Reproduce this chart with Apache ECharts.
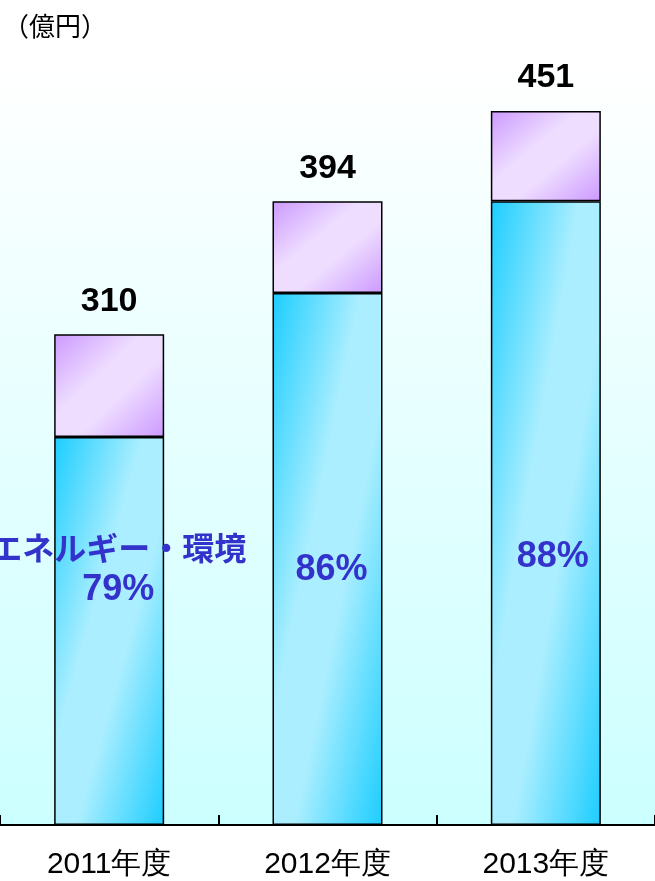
<!DOCTYPE html>
<html>
<head>
<meta charset="utf-8">
<script src="https://cdn.jsdelivr.net/npm/echarts@6/dist/echarts.min.js"></script>
<style>
  html, body { margin: 0; padding: 0; background: #fff; }
  #chart { width: 655px; height: 881px; }
</style>
</head>
<body>
<div id="chart"></div>
<script>
const categories = ['2011年度', '2012年度', '2013年度']
const energyValues = [245, 336, 394]   // エネルギー・環境
const otherValues = [65, 58, 57]
const totals = [310, 394, 451]
const energyShare = ['79%', '86%', '88%']

const BAR_W = 110
const jpFont = '"Noto Sans CJK JP", sans-serif'
const numFont = '"Liberation Sans", Arial, sans-serif'
// where the share label sits inside each blue bar
const sharePos = [['50%', '34%'], ['50%', '52%'], ['50%', '57%']]
const shareOffset = [[9, 0], [4, 0], [7, 0]]

// diagonal mirrored gradient whose light band runs corner to corner (like the office style fill)
function diagFill(w, h, dark, light) {
  const d = w * w + h * h
  return new echarts.graphic.LinearGradient(0, 0, 2 * h * h / d, 2 * w * w / d, [
    {offset: 0, color: dark},
    {offset: 0.4, color: light},
    {offset: 0.6, color: light},
    {offset: 1, color: dark}
  ])
}

const chart = echarts.init(document.getElementById('chart'))

const baseOption = {
  animation: false,
  title: {
    text: '（億円）',
    left: -2,
    top: 8,
    textStyle: {fontFamily: jpFont, fontSize: 26, fontWeight: 'normal', color: '#000'}
  },
  grid: {
    left: 0,
    right: 0,
    top: 65,
    bottom: 56,
    show: true,
    borderWidth: 0,
    backgroundColor: new echarts.graphic.LinearGradient(0, 0, 0, 1, [
      {offset: 0, color: '#ffffff'},
      {offset: 1, color: '#ccffff'}
    ])
  },
  xAxis: {
    type: 'category',
    data: categories,
    axisLine: {lineStyle: {color: '#000', width: 2}},
    axisTick: {show: true, inside: true, length: 10, lineStyle: {color: '#000', width: 2}},
    axisLabel: {margin: 25, fontSize: 30, color: '#000', fontFamily: numFont}
  },
  yAxis: {
    type: 'value',
    min: 0,
    max: 480,
    show: false,
    splitLine: {show: false}
  },
  series: [
    {
      name: 'エネルギー・環境',
      type: 'bar',
      stack: 'total',
      barWidth: BAR_W,
      data: energyValues,
      itemStyle: {color: '#66ddff', borderColor: '#000', borderWidth: 1.5},
      label: {show: false}
    },
    {
      name: 'その他',
      type: 'bar',
      stack: 'total',
      barWidth: BAR_W,
      data: otherValues,
      itemStyle: {color: '#ddbbff', borderColor: '#000', borderWidth: 1.5},
      label: {
        show: true,
        position: 'top',
        distance: 16,
        formatter: p => totals[p.dataIndex],
        fontFamily: numFont,
        fontSize: 34,
        fontWeight: 'bold',
        color: '#000'
      }
    }
  ]
}

chart.setOption(baseOption)

// build per bar gradient from the pixel sizes given by the axis scale
function segHeight(from, to) {
  const y0 = chart.convertToPixel({gridIndex: 0}, [0, from])[1]
  const y1 = chart.convertToPixel({gridIndex: 0}, [0, to])[1]
  return Math.abs(y0 - y1)
}

const energyData = energyValues.map((v, i) => ({
  value: v,
  itemStyle: {color: diagFill(BAR_W, segHeight(0, v), '#1ccdff', '#aaeeff')},
  label: {
    show: true,
    position: sharePos[i],
    offset: shareOffset[i],
    align: 'center',
    verticalAlign: 'middle',
    formatter: i === 0 ? '{name|エネルギー・環境}\n{pct|' + energyShare[i] + '}' : '{pct|' + energyShare[i] + '}',
    rich: {
      name: {fontFamily: jpFont, fontSize: 32, fontWeight: 'bold', color: '#3333cc', lineHeight: 42},
      pct: {fontFamily: numFont, fontSize: 36, fontWeight: 'bold', color: '#3333cc', lineHeight: 42}
    }
  }
}))

const otherData = otherValues.map((v, i) => ({
  value: v,
  itemStyle: {color: diagFill(BAR_W, segHeight(energyValues[i], totals[i]), '#cc99ff', '#eeddff')}
}))

chart.setOption({
  series: [{data: energyData}, {data: otherData}]
})
</script>
</body>
</html>
